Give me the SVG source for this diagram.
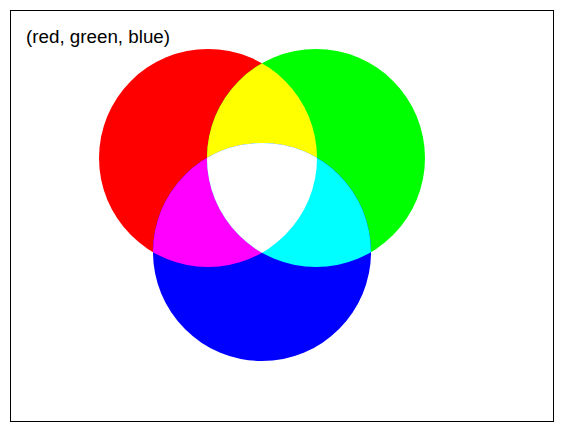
<svg xmlns="http://www.w3.org/2000/svg" width="563" height="432" viewBox="0 0 563 432">
<style>
.lbl{font-family:"Liberation Sans",Arial,sans-serif;font-size:18.8px;fill:#000}
</style>
<defs>
<clipPath id="cr"><circle cx="208" cy="158" r="109"/></clipPath>
<clipPath id="cg"><circle cx="316" cy="158" r="109"/></clipPath>
<clipPath id="cb"><circle cx="262" cy="252" r="109"/></clipPath>
</defs>
<rect x="0" y="0" width="563" height="432" fill="#fff"/>
<rect x="10.5" y="10.5" width="543" height="411" fill="#fff" stroke="#000" stroke-width="1"/>
<g id="red"><circle cx="208" cy="158" r="109" fill="#ff0000"/></g>
<g id="green"><circle cx="316" cy="158" r="109" fill="#00ff00"/></g>
<g id="blue"><circle cx="262" cy="252" r="109" fill="#0000ff"/></g>
<g id="yellow" clip-path="url(#cr)"><circle cx="316" cy="158" r="109" fill="#ffff00"/></g>
<g id="magenta" clip-path="url(#cr)"><circle cx="262" cy="252" r="109" fill="#ff00ff"/></g>
<g id="cyan" clip-path="url(#cg)"><circle cx="262" cy="252" r="109" fill="#00ffff"/></g>
<g id="white" clip-path="url(#cr)"><g clip-path="url(#cg)"><circle cx="262" cy="252" r="109" fill="#ffffff"/></g></g>
<g id="title"><text class="lbl" x="26" y="43">(red, green, blue)</text></g>
</svg>
